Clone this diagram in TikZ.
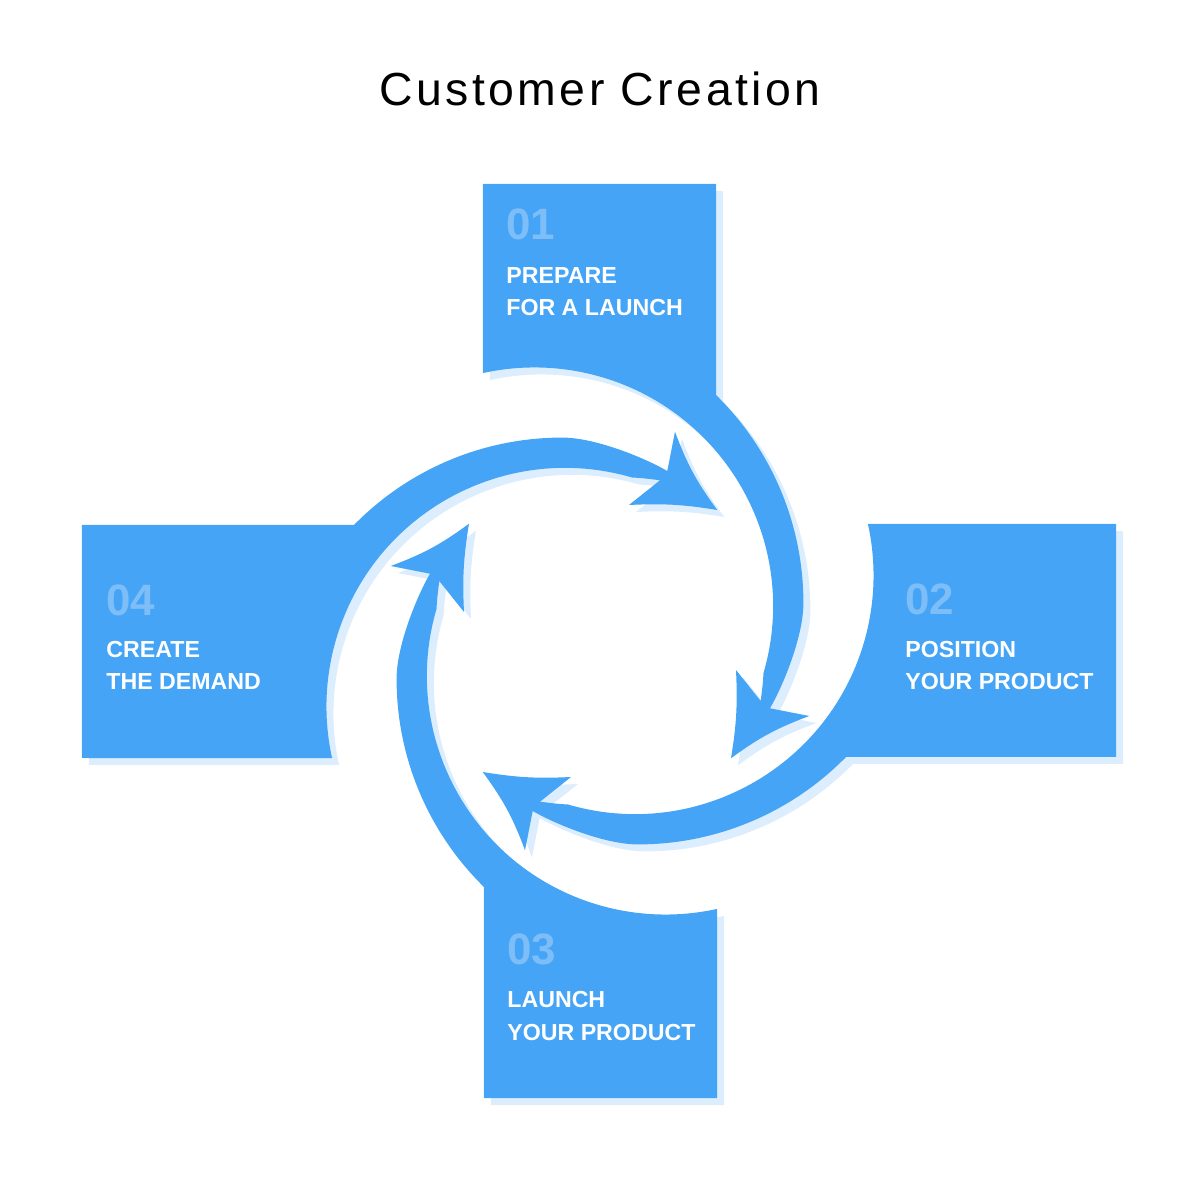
\documentclass[tikz,border=0pt]{standalone}
\usepackage{fontspec}
\setmainfont{Liberation Sans}
\newfontfamily\titlefont[LetterSpace=7.5]{Liberation Sans}
\definecolor{stageblue}{RGB}{69,164,245}
\definecolor{shadowblue}{RGB}{220,237,253}
\definecolor{numblue}{RGB}{125,190,248}
% one stage: box on top, band running clockwise to the right, arrow head
\newcommand{\stagearrow}[1]{(-117,#1) -- (116,#1) -- (116,246)
  arc[start angle=45.6, end angle=0, radius=291]
  .. controls (203.6,5) and (183,-45) .. (170,-67.3)
  -- (209.3,-75) to[bend right=8] (131,-117.3) to[bend right=6] (136,-29)
  -- (160.7,-60) .. controls (162,-50) and (163,-42) .. (163.5,-32)
  arc[start angle=-16.3, end angle=102.5, radius=238.6] -- cycle}
\begin{document}
\begin{tikzpicture}[x=0.02cm,y=0.02cm,
  stagefill/.style={fill=stageblue},
  stageshadow/.style={fill=shadowblue},
  stagenum/.style={anchor=base west,inner sep=0pt,text=numblue,font=\fontsize{25}{30}\selectfont\bfseries},
  stagelabel/.style={anchor=base west,inner sep=0pt,text=white,align=left,font=\fontsize{13.2}{18.7}\selectfont\bfseries}]
\def\exta{457};
\def\extb{516};
\def\extc{457};
\def\extd{518};

\useasboundingbox (-600,641) rectangle (600,-541);

\node[anchor=base,inner sep=0pt,font=\titlefont\fontsize{26.4}{30}\selectfont] (title) at (0,535) {Customer Creation};

% shadows
\begin{scope}[shift={(7,-7)}]
\fill[stageshadow] \stagearrow{\exta};
\fill[stageshadow,rotate=-90] \stagearrow{\extb};
\fill[stageshadow,rotate=180] \stagearrow{\extc};
\fill[stageshadow,rotate=90] \stagearrow{\extd};
\end{scope}

% stages
\fill[stagefill] \stagearrow{\exta};
\fill[stagefill,rotate=-90] \stagearrow{\extb};
\fill[stagefill,rotate=180] \stagearrow{\extc};
\fill[stagefill,rotate=90] \stagearrow{\extd};

% labels (base of a two-line node is its last line)
\node[stagenum] (N1) at (-94,401) {01};
\node[stagelabel] (L1) at (-94,325) {PREPARE\\FOR A LAUNCH};
\node[stagenum] (N2) at (305,26) {02};
\node[stagelabel] (L2) at (305,-49) {POSITION\\YOUR PRODUCT};
\node[stagenum] (N3) at (-93,-324) {03};
\node[stagelabel] (L3) at (-93,-399) {LAUNCH\\YOUR PRODUCT};
\node[stagenum] (N4) at (-494,25) {04};
\node[stagelabel] (L4) at (-494,-49) {CREATE\\THE DEMAND};
\end{tikzpicture}
\end{document}
